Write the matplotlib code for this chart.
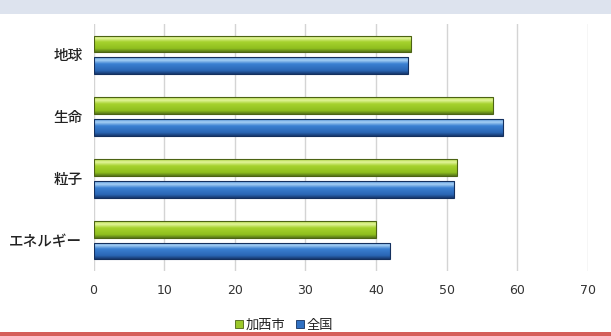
import matplotlib
matplotlib.use("Agg")
import matplotlib.pyplot as plt
import numpy as np
from matplotlib.colors import LinearSegmentedColormap
from matplotlib.patches import Rectangle

plt.rcParams['font.family'] = ['Noto Sans CJK JP', 'DejaVu Sans']

# survey results: Kasai city vs. national average
categories = ['地球', '生命', '粒子', 'エネルギー']
kasai = [45.0, 56.5, 51.5, 40.0]
national = [44.5, 58.0, 51.0, 42.0]
series_names = ['加西市', '全国']
xticks = [0, 10, 20, 30, 40, 50, 60, 70]

green_cmap = LinearSegmentedColormap.from_list(
    'green3d', [(0.0, '#b6dc4c'), (0.18, '#e2f59a'), (0.4, '#a6d22e'),
                (0.8, '#8fbf1e'), (1.0, '#56741a')])
blue_cmap = LinearSegmentedColormap.from_list(
    'blue3d', [(0.0, '#5d9ade'), (0.18, '#a6d0f4'), (0.4, '#3b80d2'),
               (0.8, '#2a66b4'), (1.0, '#17386e')])


def shade_bars(ax, bars, cmap, edge):
    grad = np.linspace(0, 1, 64).reshape(-1, 1)
    for b in bars:
        x0, y0 = b.get_x(), b.get_y()
        w, h = b.get_width(), b.get_height()
        im = ax.imshow(grad, cmap=cmap, aspect='auto', origin='lower',
                       extent=(x0, x0 + w, y0, y0 + h), zorder=3,
                       interpolation='bilinear')
        im.set_clip_path(b)
        b.set_facecolor('none')
        b.set_edgecolor(edge)
        b.set_linewidth(0.8)
        b.set_zorder(4)


fig = plt.figure(figsize=(6.11, 3.36), dpi=100)
fig.patch.set_facecolor('white')

# header band and red rule at the bottom
fig.add_artist(Rectangle((0, 1 - 14 / 336), 1, 14 / 336, transform=fig.transFigure,
                         facecolor='#dde3ee', edgecolor='none'))
fig.add_artist(Rectangle((0, 0), 1, 4 / 336, transform=fig.transFigure,
                         facecolor='#d65f5a', edgecolor='none'))

ax = fig.add_axes([93.5 / 611, 1 - 271 / 336, (588 - 93.5) / 611, (271 - 24) / 336])

y = np.arange(len(categories))
h = 0.27
off = 0.175
bars_k = ax.barh(y - off, kasai, height=h, label=series_names[0])
bars_n = ax.barh(y + off, national, height=h, label=series_names[1])
shade_bars(ax, bars_k, green_cmap, '#4c6314')
shade_bars(ax, bars_n, blue_cmap, '#14305e')

ax.set_xlim(0, 70)
ax.set_ylim(-0.5, len(categories) - 0.5)
ax.invert_yaxis()
ax.set_xticks(xticks)
ax.set_yticks(y)
ax.set_yticklabels(categories, fontsize=10.5, color='#222222', fontweight='medium')
ax.tick_params(axis='x', length=0, pad=9, labelsize=9, labelcolor='#333333')
ax.tick_params(axis='y', length=0, pad=8)
for lbl in ax.get_xticklabels():
    lbl.set_family(['DejaVu Sans'])

ax.grid(axis='x', color='#d4d4d4', linewidth=1.0, zorder=0)
ax.set_axisbelow(True)
for s in ax.spines.values():
    s.set_visible(False)

handles = [Rectangle((0, 0), 1, 1, facecolor='#9bc82a', edgecolor='#4c6314', linewidth=0.6),
           Rectangle((0, 0), 1, 1, facecolor='#2f70c2', edgecolor='#14305e', linewidth=0.6)]
fig.legend(handles, series_names, loc='center', bbox_to_anchor=(284 / 611, 1 - 325 / 336),
           ncol=2, frameon=False, fontsize=9.5, handlelength=0.6, handleheight=0.6,
           handletextpad=0.2, columnspacing=0.8, labelcolor='#222222')

fig.savefig('out.png', dpi=100, facecolor=fig.get_facecolor())
